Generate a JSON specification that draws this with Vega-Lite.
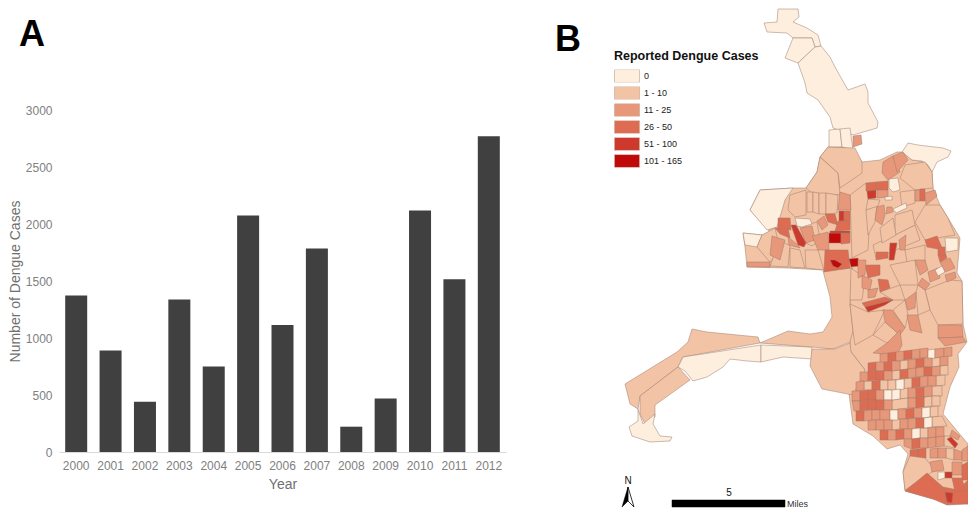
{"$schema":"https://vega.github.io/schema/vega-lite/v6.json","autosize":{"type":"fit","contains":"padding"},"width":968,"height":508,"padding":0,"background":"white","config":{"view":{"stroke":null},"font":"Liberation Sans"},"layer":[{"data":{"values":[{"year":"2000","cases":1373},{"year":"2001","cases":891},{"year":"2002","cases":441},{"year":"2003","cases":1338},{"year":"2004","cases":751},{"year":"2005","cases":2074},{"year":"2006","cases":1113},{"year":"2007","cases":1785},{"year":"2008","cases":222},{"year":"2009","cases":470},{"year":"2010","cases":2118},{"year":"2011","cases":1516},{"year":"2012","cases":2769}]},"mark":{"type":"bar","color":"#404040"},"encoding":{"x":{"field":"year","type":"nominal","title":"Year","scale":{"paddingInner":0.36,"paddingOuter":0.18,"range":[59,506]},"axis":{"orient":"bottom","offset":-56,"labelAngle":0,"ticks":false,"domainColor":"#d9d9d9","labelColor":"#808080","labelFontSize":12,"labelPadding":8,"titleColor":"#707070","titleFontSize":14,"titleFontWeight":"normal","titlePadding":6}},"y":{"field":"cases","type":"quantitative","title":"Number of Dengue Cases","scale":{"domain":[0,3000],"range":[452,110]},"axis":{"orient":"left","offset":-59,"format":"d","values":[0,500,1000,1500,2000,2500,3000],"grid":false,"domain":false,"ticks":false,"labelColor":"#808080","labelFontSize":12,"labelPadding":7,"titleColor":"#707070","titleFontSize":14,"titleFontWeight":"normal","titlePadding":3}}}},
{"projection":{"type":"identity","scale":1,"translate":[0,0]},"data":{"values":[
{"type":"Feature","c":"1 - 10","geometry":{"type":"Polygon","coordinates":[[[743,233],[762,235],[770,232],[750,210],[760,190],[793,188],[806,188],[817,172],[820,157],[828,147],[853,148],[862,162],[880,160],[897,152],[902,152],[912,160],[925,162],[932,172],[933,188],[940,205],[948,218],[960,238],[959,250],[957,273],[962,281],[963,324],[967,342],[958,354],[959,367],[950,387],[943,414],[968,444],[968,504],[933,499],[905,491],[903,471],[908,454],[900,445],[887,449],[873,436],[853,424],[849,394],[853,384],[865,370],[850,350],[850,304],[852,268],[823,270],[787,268],[747,267],[745,247],[743,233]]]}},
{"type":"Feature","c":"0","geometry":{"type":"Polygon","coordinates":[[[778,9],[798,9],[799,17],[793,22],[807,28],[818,35],[821,46],[815,47],[812,38],[793,38],[787,33],[767,32],[764,23],[777,22],[778,9]]]}},
{"type":"Feature","c":"0","geometry":{"type":"Polygon","coordinates":[[[793,38],[812,38],[815,47],[798,63],[785,58],[793,38]]]}},
{"type":"Feature","c":"0","geometry":{"type":"Polygon","coordinates":[[[815,47],[821,46],[830,57],[835,67],[848,90],[865,84],[868,92],[868,103],[878,122],[877,128],[853,135],[833,128],[830,117],[818,100],[807,93],[805,83],[798,63],[815,47]]]}},
{"type":"Feature","c":"0","geometry":{"type":"Polygon","coordinates":[[[829,130],[840,129],[842,147],[829,147],[829,130]]]}},
{"type":"Feature","c":"0","geometry":{"type":"Polygon","coordinates":[[[840,129],[850,128],[853,150],[842,147],[840,129]]]}},
{"type":"Feature","c":"11 - 25","geometry":{"type":"Polygon","coordinates":[[[853,136],[861,135],[862,144],[853,147],[853,136]]]}},
{"type":"Feature","c":"0","geometry":{"type":"Polygon","coordinates":[[[902,152],[908,143],[918,145],[943,148],[951,151],[948,157],[937,162],[932,172],[928,165],[922,161],[912,160],[902,152]]]}},
{"type":"Feature","c":"0","geometry":{"type":"Polygon","coordinates":[[[760,190],[793,188],[785,200],[777,227],[767,230],[750,210],[760,190]]]}},
{"type":"Feature","c":"0","geometry":{"type":"Polygon","coordinates":[[[743,233],[762,235],[757,247],[745,245],[743,233]]]}},
{"type":"Feature","c":"1 - 10","geometry":{"type":"Polygon","coordinates":[[[820,157],[838,173],[840,195],[812,193],[806,188],[817,172],[820,157]]]}},
{"type":"Feature","c":"1 - 10","geometry":{"type":"Polygon","coordinates":[[[855,148],[862,162],[862,173],[840,188],[838,173],[827,163],[820,157],[828,147],[855,148]]]}},
{"type":"Feature","c":"1 - 10","geometry":{"type":"Polygon","coordinates":[[[850,195],[866,183],[870,210],[868,250],[852,258],[850,195]]]}},
{"type":"Feature","c":"1 - 10","geometry":{"type":"Polygon","coordinates":[[[873,245],[915,225],[920,240],[876,258],[873,245]]]}},
{"type":"Feature","c":"1 - 10","geometry":{"type":"Polygon","coordinates":[[[905,165],[925,162],[932,172],[933,188],[915,190],[900,178],[905,165]]]}},
{"type":"Feature","c":"1 - 10","geometry":{"type":"Polygon","coordinates":[[[925,205],[940,205],[948,218],[955,235],[925,240],[915,222],[925,205]]]}},
{"type":"Feature","c":"1 - 10","geometry":{"type":"Polygon","coordinates":[[[760,343],[758,337],[707,332],[692,329],[688,342],[677,352],[625,384],[630,404],[638,409],[640,396],[678,367],[683,357],[760,343]]]}},
{"type":"Feature","c":"1 - 10","geometry":{"type":"Polygon","coordinates":[[[640,396],[678,367],[690,380],[655,405],[655,417],[645,424],[640,414],[640,396]]]}},
{"type":"Feature","c":"0","geometry":{"type":"Polygon","coordinates":[[[638,409],[643,424],[655,414],[653,424],[660,436],[672,437],[670,441],[650,442],[632,436],[629,427],[638,421],[638,409]]]}},
{"type":"Feature","c":"0","geometry":{"type":"Polygon","coordinates":[[[678,367],[683,357],[761,345],[761,362],[747,361],[730,359],[723,367],[707,377],[693,381],[685,371],[678,367]]]}},
{"type":"Feature","c":"0","geometry":{"type":"Polygon","coordinates":[[[761,345],[812,347],[812,359],[783,357],[761,362],[761,345]]]}},
{"type":"Feature","c":"1 - 10","geometry":{"type":"Polygon","coordinates":[[[823,271],[852,268],[850,304],[853,331],[850,342],[833,349],[812,347],[760,343],[788,331],[810,334],[823,332],[832,317],[830,297],[823,271]]]}},
{"type":"Feature","c":"1 - 10","geometry":{"type":"Polygon","coordinates":[[[812,349],[835,349],[850,343],[851,352],[865,370],[853,395],[822,389],[810,366],[812,349]]]}},
{"type":"Feature","c":"1 - 10","geometry":{"type":"Polygon","coordinates":[[[850,304],[868,312],[885,310],[873,335],[855,345],[853,331],[850,304]]]}},
{"type":"Feature","c":"1 - 10","geometry":{"type":"Polygon","coordinates":[[[925,290],[950,280],[962,281],[963,324],[938,325],[930,310],[925,290]]]}},
{"type":"Feature","c":"1 - 10","geometry":{"type":"Polygon","coordinates":[[[807,192],[813,192],[813,212],[807,212],[807,192]]]}},
{"type":"Feature","c":"1 - 10","geometry":{"type":"Polygon","coordinates":[[[813,192],[819,193],[819,214],[813,212],[813,192]]]}},
{"type":"Feature","c":"1 - 10","geometry":{"type":"Polygon","coordinates":[[[819,193],[826,193],[826,214],[819,214],[819,193]]]}},
{"type":"Feature","c":"1 - 10","geometry":{"type":"Polygon","coordinates":[[[826,193],[838,195],[837,213],[826,214],[826,193]]]}},
{"type":"Feature","c":"1 - 10","geometry":{"type":"Polygon","coordinates":[[[790,195],[806,190],[806,215],[795,217],[788,210],[790,195]]]}},
{"type":"Feature","c":"1 - 10","geometry":{"type":"Polygon","coordinates":[[[762,235],[775,228],[780,250],[770,262],[757,247],[762,235]]]}},
{"type":"Feature","c":"1 - 10","geometry":{"type":"Polygon","coordinates":[[[780,240],[790,246],[788,267],[770,266],[780,240]]]}},
{"type":"Feature","c":"1 - 10","geometry":{"type":"Polygon","coordinates":[[[790,248],[800,250],[805,268],[790,267],[790,248]]]}},
{"type":"Feature","c":"1 - 10","geometry":{"type":"Polygon","coordinates":[[[805,250],[818,250],[824,270],[806,268],[805,250]]]}},
{"type":"Feature","c":"1 - 10","geometry":{"type":"Polygon","coordinates":[[[806,225],[817,222],[820,240],[812,246],[806,243],[806,225]]]}},
{"type":"Feature","c":"1 - 10","geometry":{"type":"Polygon","coordinates":[[[851,268],[865,278],[862,300],[850,300],[851,268]]]}},
{"type":"Feature","c":"1 - 10","geometry":{"type":"Polygon","coordinates":[[[866,210],[877,205],[875,222],[868,235],[866,210]]]}},
{"type":"Feature","c":"1 - 10","geometry":{"type":"Polygon","coordinates":[[[868,199],[880,200],[878,206],[866,210],[868,199]]]}},
{"type":"Feature","c":"1 - 10","geometry":{"type":"Polygon","coordinates":[[[895,215],[912,210],[915,225],[895,235],[895,215]]]}},
{"type":"Feature","c":"1 - 10","geometry":{"type":"Polygon","coordinates":[[[880,228],[893,218],[896,235],[882,243],[880,228]]]}},
{"type":"Feature","c":"1 - 10","geometry":{"type":"Polygon","coordinates":[[[900,192],[915,190],[915,203],[902,207],[900,192]]]}},
{"type":"Feature","c":"1 - 10","geometry":{"type":"Polygon","coordinates":[[[905,250],[925,245],[925,262],[908,268],[905,250]]]}},
{"type":"Feature","c":"1 - 10","geometry":{"type":"Polygon","coordinates":[[[880,292],[900,285],[905,300],[893,300],[880,292]]]}},
{"type":"Feature","c":"1 - 10","geometry":{"type":"Polygon","coordinates":[[[890,265],[915,260],[918,285],[900,285],[890,265]]]}},
{"type":"Feature","c":"1 - 10","geometry":{"type":"Polygon","coordinates":[[[885,322],[900,335],[887,343],[873,335],[885,322]]]}},
{"type":"Feature","c":"1 - 10","geometry":{"type":"Polygon","coordinates":[[[918,285],[925,290],[930,310],[918,315],[916,292],[918,285]]]}},
{"type":"Feature","c":"1 - 10","geometry":{"type":"Polygon","coordinates":[[[893,310],[905,300],[908,315],[905,328],[893,310]]]}},
{"type":"Feature","c":"1 - 10","geometry":{"type":"Polygon","coordinates":[[[900,361],[908,360],[908,369],[900,370],[900,361]]]}},
{"type":"Feature","c":"1 - 10","geometry":{"type":"Polygon","coordinates":[[[932,358],[940,357],[940,366],[932,367],[932,358]]]}},
{"type":"Feature","c":"1 - 10","geometry":{"type":"Polygon","coordinates":[[[892,371],[900,370],[900,379],[892,380],[892,371]]]}},
{"type":"Feature","c":"1 - 10","geometry":{"type":"Polygon","coordinates":[[[940,366],[948,365],[948,375],[940,375],[940,366]]]}},
{"type":"Feature","c":"1 - 10","geometry":{"type":"Polygon","coordinates":[[[864,381],[872,381],[872,390],[864,390],[864,381]]]}},
{"type":"Feature","c":"1 - 10","geometry":{"type":"Polygon","coordinates":[[[880,380],[888,380],[888,390],[880,390],[880,380]]]}},
{"type":"Feature","c":"1 - 10","geometry":{"type":"Polygon","coordinates":[[[888,380],[896,380],[896,390],[888,390],[888,380]]]}},
{"type":"Feature","c":"1 - 10","geometry":{"type":"Polygon","coordinates":[[[904,379],[912,378],[912,388],[904,389],[904,379]]]}},
{"type":"Feature","c":"1 - 10","geometry":{"type":"Polygon","coordinates":[[[936,376],[945,375],[945,385],[936,386],[936,376]]]}},
{"type":"Feature","c":"1 - 10","geometry":{"type":"Polygon","coordinates":[[[900,389],[908,388],[908,398],[900,399],[900,389]]]}},
{"type":"Feature","c":"1 - 10","geometry":{"type":"Polygon","coordinates":[[[932,386],[942,386],[942,396],[932,396],[932,386]]]}},
{"type":"Feature","c":"1 - 10","geometry":{"type":"Polygon","coordinates":[[[892,400],[908,398],[908,408],[892,410],[892,400]]]}},
{"type":"Feature","c":"1 - 10","geometry":{"type":"Polygon","coordinates":[[[924,397],[932,396],[932,406],[924,407],[924,397]]]}},
{"type":"Feature","c":"1 - 10","geometry":{"type":"Polygon","coordinates":[[[932,396],[940,396],[940,406],[932,406],[932,396]]]}},
{"type":"Feature","c":"1 - 10","geometry":{"type":"Polygon","coordinates":[[[930,407],[938,406],[938,417],[930,417],[930,407]]]}},
{"type":"Feature","c":"1 - 10","geometry":{"type":"Polygon","coordinates":[[[892,420],[900,419],[900,429],[892,430],[892,420]]]}},
{"type":"Feature","c":"1 - 10","geometry":{"type":"Polygon","coordinates":[[[932,417],[942,416],[947,426],[932,427],[932,417]]]}},
{"type":"Feature","c":"1 - 10","geometry":{"type":"Polygon","coordinates":[[[920,428],[928,428],[928,438],[920,438],[920,428]]]}},
{"type":"Feature","c":"1 - 10","geometry":{"type":"Polygon","coordinates":[[[944,436],[950,436],[955,448],[944,446],[944,436]]]}},
{"type":"Feature","c":"1 - 10","geometry":{"type":"Polygon","coordinates":[[[946,448],[954,449],[954,460],[946,458],[946,448]]]}},
{"type":"Feature","c":"11 - 25","geometry":{"type":"Polygon","coordinates":[[[747,262],[770,262],[770,267],[747,267],[747,262]]]}},
{"type":"Feature","c":"11 - 25","geometry":{"type":"Polygon","coordinates":[[[772,236],[785,240],[780,260],[770,255],[772,236]]]}},
{"type":"Feature","c":"11 - 25","geometry":{"type":"Polygon","coordinates":[[[800,228],[812,226],[815,240],[806,243],[800,228]]]}},
{"type":"Feature","c":"11 - 25","geometry":{"type":"Polygon","coordinates":[[[883,162],[893,156],[900,172],[888,180],[882,173],[883,162]]]}},
{"type":"Feature","c":"11 - 25","geometry":{"type":"Polygon","coordinates":[[[893,156],[903,152],[908,160],[897,172],[893,156]]]}},
{"type":"Feature","c":"26 - 50","geometry":{"type":"Polygon","coordinates":[[[866,183],[876,182],[877,190],[866,191],[866,183]]]}},
{"type":"Feature","c":"51 - 100","geometry":{"type":"Polygon","coordinates":[[[867,191],[876,190],[876,198],[868,199],[867,191]]]}},
{"type":"Feature","c":"26 - 50","geometry":{"type":"Polygon","coordinates":[[[876,182],[888,181],[888,190],[877,190],[876,182]]]}},
{"type":"Feature","c":"11 - 25","geometry":{"type":"Polygon","coordinates":[[[877,190],[888,190],[888,197],[877,198],[877,190]]]}},
{"type":"Feature","c":"11 - 25","geometry":{"type":"Polygon","coordinates":[[[915,190],[920,190],[920,201],[915,201],[915,190]]]}},
{"type":"Feature","c":"26 - 50","geometry":{"type":"Polygon","coordinates":[[[920,189],[925,189],[925,201],[920,201],[920,189]]]}},
{"type":"Feature","c":"11 - 25","geometry":{"type":"Polygon","coordinates":[[[925,193],[935,190],[937,196],[926,205],[925,193]]]}},
{"type":"Feature","c":"0","geometry":{"type":"Polygon","coordinates":[[[889,179],[898,178],[900,190],[893,192],[889,188],[889,179]]]}},
{"type":"Feature","c":"0","geometry":{"type":"Polygon","coordinates":[[[885,197],[892,196],[892,200],[885,200],[885,197]]]}},
{"type":"Feature","c":"0","geometry":{"type":"Polygon","coordinates":[[[893,209],[906,203],[907,208],[896,213],[893,209]]]}},
{"type":"Feature","c":"11 - 25","geometry":{"type":"Polygon","coordinates":[[[877,207],[884,205],[885,215],[882,225],[875,220],[877,207]]]}},
{"type":"Feature","c":"11 - 25","geometry":{"type":"Polygon","coordinates":[[[887,207],[892,207],[893,212],[886,214],[887,207]]]}},
{"type":"Feature","c":"51 - 100","geometry":{"type":"Polygon","coordinates":[[[791,225],[796,225],[806,243],[804,247],[798,245],[791,225]]]}},
{"type":"Feature","c":"26 - 50","geometry":{"type":"Polygon","coordinates":[[[778,218],[790,218],[791,230],[778,228],[778,218]]]}},
{"type":"Feature","c":"26 - 50","geometry":{"type":"Polygon","coordinates":[[[775,228],[788,228],[790,238],[780,234],[775,228]]]}},
{"type":"Feature","c":"11 - 25","geometry":{"type":"Polygon","coordinates":[[[788,237],[798,245],[800,248],[789,245],[788,237]]]}},
{"type":"Feature","c":"0","geometry":{"type":"Polygon","coordinates":[[[795,218],[810,219],[812,224],[802,227],[797,226],[795,218]]]}},
{"type":"Feature","c":"11 - 25","geometry":{"type":"Polygon","coordinates":[[[840,192],[850,195],[851,210],[838,210],[840,192]]]}},
{"type":"Feature","c":"51 - 100","geometry":{"type":"Polygon","coordinates":[[[839,211],[844,211],[844,221],[839,221],[839,211]]]}},
{"type":"Feature","c":"26 - 50","geometry":{"type":"Polygon","coordinates":[[[844,211],[850,211],[850,221],[844,221],[844,211]]]}},
{"type":"Feature","c":"26 - 50","geometry":{"type":"Polygon","coordinates":[[[838,221],[850,221],[850,230],[835,231],[838,221]]]}},
{"type":"Feature","c":"26 - 50","geometry":{"type":"Polygon","coordinates":[[[825,214],[835,214],[838,225],[828,222],[825,214]]]}},
{"type":"Feature","c":"11 - 25","geometry":{"type":"Polygon","coordinates":[[[817,221],[824,216],[828,225],[822,230],[817,221]]]}},
{"type":"Feature","c":"11 - 25","geometry":{"type":"Polygon","coordinates":[[[812,236],[828,232],[829,250],[818,250],[812,236]]]}},
{"type":"Feature","c":"101 - 165","geometry":{"type":"Polygon","coordinates":[[[829,233],[841,233],[841,243],[829,243],[829,233]]]}},
{"type":"Feature","c":"51 - 100","geometry":{"type":"Polygon","coordinates":[[[830,231],[850,231],[850,233],[830,233],[830,231]]]}},
{"type":"Feature","c":"26 - 50","geometry":{"type":"Polygon","coordinates":[[[841,233],[850,233],[850,243],[841,244],[841,233]]]}},
{"type":"Feature","c":"26 - 50","geometry":{"type":"Polygon","coordinates":[[[825,250],[848,250],[850,268],[824,272],[825,250]]]}},
{"type":"Feature","c":"101 - 165","geometry":{"type":"Polygon","coordinates":[[[830,260],[835,260],[842,264],[838,268],[833,266],[830,260]]]}},
{"type":"Feature","c":"101 - 165","geometry":{"type":"Polygon","coordinates":[[[849,259],[858,258],[859,266],[851,267],[849,259]]]}},
{"type":"Feature","c":"26 - 50","geometry":{"type":"Polygon","coordinates":[[[865,265],[880,265],[880,275],[868,278],[865,265]]]}},
{"type":"Feature","c":"11 - 25","geometry":{"type":"Polygon","coordinates":[[[858,260],[866,260],[865,275],[858,278],[858,260]]]}},
{"type":"Feature","c":"11 - 25","geometry":{"type":"Polygon","coordinates":[[[862,275],[872,280],[870,290],[862,288],[862,275]]]}},
{"type":"Feature","c":"26 - 50","geometry":{"type":"Polygon","coordinates":[[[878,279],[888,280],[890,288],[880,292],[878,279]]]}},
{"type":"Feature","c":"11 - 25","geometry":{"type":"Polygon","coordinates":[[[868,290],[878,288],[875,297],[868,298],[868,290]]]}},
{"type":"Feature","c":"26 - 50","geometry":{"type":"Polygon","coordinates":[[[862,303],[885,297],[893,300],[865,307],[862,303]]]}},
{"type":"Feature","c":"51 - 100","geometry":{"type":"Polygon","coordinates":[[[865,307],[893,300],[885,305],[868,312],[865,307]]]}},
{"type":"Feature","c":"11 - 25","geometry":{"type":"Polygon","coordinates":[[[905,300],[916,292],[915,308],[908,310],[905,300]]]}},
{"type":"Feature","c":"11 - 25","geometry":{"type":"Polygon","coordinates":[[[883,310],[892,310],[905,328],[900,335],[885,322],[883,310]]]}},
{"type":"Feature","c":"11 - 25","geometry":{"type":"Polygon","coordinates":[[[873,353],[887,343],[900,330],[902,345],[897,355],[873,353]]]}},
{"type":"Feature","c":"11 - 25","geometry":{"type":"Polygon","coordinates":[[[907,315],[918,315],[922,333],[910,330],[907,315]]]}},
{"type":"Feature","c":"11 - 25","geometry":{"type":"Polygon","coordinates":[[[938,325],[962,325],[963,337],[938,338],[938,325]]]}},
{"type":"Feature","c":"11 - 25","geometry":{"type":"Polygon","coordinates":[[[938,338],[963,337],[966,342],[945,346],[938,338]]]}},
{"type":"Feature","c":"11 - 25","geometry":{"type":"Polygon","coordinates":[[[915,260],[925,260],[928,270],[920,275],[915,260]]]}},
{"type":"Feature","c":"11 - 25","geometry":{"type":"Polygon","coordinates":[[[928,272],[938,268],[940,278],[930,282],[928,272]]]}},
{"type":"Feature","c":"11 - 25","geometry":{"type":"Polygon","coordinates":[[[922,278],[930,284],[925,290],[918,285],[922,278]]]}},
{"type":"Feature","c":"11 - 25","geometry":{"type":"Polygon","coordinates":[[[940,262],[950,258],[955,268],[945,272],[940,262]]]}},
{"type":"Feature","c":"26 - 50","geometry":{"type":"Polygon","coordinates":[[[938,255],[945,252],[947,258],[940,262],[938,255]]]}},
{"type":"Feature","c":"0","geometry":{"type":"Polygon","coordinates":[[[935,270],[942,266],[945,272],[938,276],[935,270]]]}},
{"type":"Feature","c":"11 - 25","geometry":{"type":"Polygon","coordinates":[[[945,275],[955,272],[956,278],[947,282],[945,275]]]}},
{"type":"Feature","c":"51 - 100","geometry":{"type":"Polygon","coordinates":[[[890,243],[897,243],[894,260],[889,260],[890,243]]]}},
{"type":"Feature","c":"26 - 50","geometry":{"type":"Polygon","coordinates":[[[876,252],[888,252],[888,258],[876,260],[876,252]]]}},
{"type":"Feature","c":"11 - 25","geometry":{"type":"Polygon","coordinates":[[[899,240],[906,235],[905,250],[900,250],[899,240]]]}},
{"type":"Feature","c":"26 - 50","geometry":{"type":"Polygon","coordinates":[[[925,240],[937,236],[943,250],[927,247],[925,240]]]}},
{"type":"Feature","c":"26 - 50","geometry":{"type":"Polygon","coordinates":[[[938,247],[945,247],[945,255],[938,255],[938,247]]]}},
{"type":"Feature","c":"0","geometry":{"type":"Polygon","coordinates":[[[945,238],[958,238],[958,250],[946,252],[945,238]]]}},
{"type":"Feature","c":"11 - 25","geometry":{"type":"Polygon","coordinates":[[[880,354],[888,353],[888,362],[880,363],[880,354]]]}},
{"type":"Feature","c":"26 - 50","geometry":{"type":"Polygon","coordinates":[[[888,353],[896,352],[896,361],[888,362],[888,353]]]}},
{"type":"Feature","c":"11 - 25","geometry":{"type":"Polygon","coordinates":[[[896,352],[904,351],[904,360],[896,361],[896,352]]]}},
{"type":"Feature","c":"26 - 50","geometry":{"type":"Polygon","coordinates":[[[904,351],[912,350],[912,359],[904,360],[904,351]]]}},
{"type":"Feature","c":"11 - 25","geometry":{"type":"Polygon","coordinates":[[[912,350],[920,349],[920,358],[912,359],[912,350]]]}},
{"type":"Feature","c":"11 - 25","geometry":{"type":"Polygon","coordinates":[[[920,349],[928,348],[928,357],[920,358],[920,349]]]}},
{"type":"Feature","c":"0","geometry":{"type":"Polygon","coordinates":[[[928,350],[935,349],[935,358],[928,359],[928,350]]]}},
{"type":"Feature","c":"11 - 25","geometry":{"type":"Polygon","coordinates":[[[935,349],[944,348],[944,357],[935,358],[935,349]]]}},
{"type":"Feature","c":"11 - 25","geometry":{"type":"Polygon","coordinates":[[[944,348],[952,347],[952,356],[944,357],[944,348]]]}},
{"type":"Feature","c":"26 - 50","geometry":{"type":"Polygon","coordinates":[[[868,363],[876,362],[876,371],[868,372],[868,363]]]}},
{"type":"Feature","c":"11 - 25","geometry":{"type":"Polygon","coordinates":[[[876,362],[884,362],[884,371],[876,371],[876,362]]]}},
{"type":"Feature","c":"26 - 50","geometry":{"type":"Polygon","coordinates":[[[884,362],[892,362],[892,371],[884,371],[884,362]]]}},
{"type":"Feature","c":"11 - 25","geometry":{"type":"Polygon","coordinates":[[[892,361],[900,361],[900,370],[892,371],[892,361]]]}},
{"type":"Feature","c":"11 - 25","geometry":{"type":"Polygon","coordinates":[[[908,360],[916,359],[916,368],[908,369],[908,360]]]}},
{"type":"Feature","c":"26 - 50","geometry":{"type":"Polygon","coordinates":[[[916,359],[924,358],[924,367],[916,368],[916,359]]]}},
{"type":"Feature","c":"11 - 25","geometry":{"type":"Polygon","coordinates":[[[924,358],[932,358],[932,367],[924,367],[924,358]]]}},
{"type":"Feature","c":"11 - 25","geometry":{"type":"Polygon","coordinates":[[[940,357],[948,356],[948,365],[940,366],[940,357]]]}},
{"type":"Feature","c":"11 - 25","geometry":{"type":"Polygon","coordinates":[[[860,372],[868,372],[868,381],[860,381],[860,372]]]}},
{"type":"Feature","c":"26 - 50","geometry":{"type":"Polygon","coordinates":[[[868,372],[876,371],[876,380],[868,381],[868,372]]]}},
{"type":"Feature","c":"26 - 50","geometry":{"type":"Polygon","coordinates":[[[876,371],[884,371],[884,380],[876,380],[876,371]]]}},
{"type":"Feature","c":"11 - 25","geometry":{"type":"Polygon","coordinates":[[[884,371],[892,371],[892,380],[884,380],[884,371]]]}},
{"type":"Feature","c":"26 - 50","geometry":{"type":"Polygon","coordinates":[[[900,370],[908,369],[908,378],[900,379],[900,370]]]}},
{"type":"Feature","c":"11 - 25","geometry":{"type":"Polygon","coordinates":[[[908,369],[916,368],[916,377],[908,378],[908,369]]]}},
{"type":"Feature","c":"11 - 25","geometry":{"type":"Polygon","coordinates":[[[916,368],[924,367],[924,376],[916,377],[916,368]]]}},
{"type":"Feature","c":"26 - 50","geometry":{"type":"Polygon","coordinates":[[[924,367],[932,367],[932,376],[924,376],[924,367]]]}},
{"type":"Feature","c":"11 - 25","geometry":{"type":"Polygon","coordinates":[[[932,367],[940,366],[940,375],[932,376],[932,367]]]}},
{"type":"Feature","c":"11 - 25","geometry":{"type":"Polygon","coordinates":[[[856,382],[864,381],[864,390],[856,391],[856,382]]]}},
{"type":"Feature","c":"26 - 50","geometry":{"type":"Polygon","coordinates":[[[872,381],[880,380],[880,390],[872,390],[872,381]]]}},
{"type":"Feature","c":"0","geometry":{"type":"Polygon","coordinates":[[[896,380],[904,379],[904,389],[896,390],[896,380]]]}},
{"type":"Feature","c":"26 - 50","geometry":{"type":"Polygon","coordinates":[[[912,378],[920,377],[920,387],[912,388],[912,378]]]}},
{"type":"Feature","c":"11 - 25","geometry":{"type":"Polygon","coordinates":[[[920,377],[928,376],[928,386],[920,387],[920,377]]]}},
{"type":"Feature","c":"11 - 25","geometry":{"type":"Polygon","coordinates":[[[928,376],[936,376],[936,386],[928,386],[928,376]]]}},
{"type":"Feature","c":"11 - 25","geometry":{"type":"Polygon","coordinates":[[[852,391],[860,391],[860,401],[852,401],[852,391]]]}},
{"type":"Feature","c":"26 - 50","geometry":{"type":"Polygon","coordinates":[[[860,391],[868,390],[868,400],[860,401],[860,391]]]}},
{"type":"Feature","c":"26 - 50","geometry":{"type":"Polygon","coordinates":[[[868,390],[876,390],[876,400],[868,400],[868,390]]]}},
{"type":"Feature","c":"11 - 25","geometry":{"type":"Polygon","coordinates":[[[876,390],[884,390],[884,400],[876,400],[876,390]]]}},
{"type":"Feature","c":"0","geometry":{"type":"Polygon","coordinates":[[[884,390],[892,390],[892,400],[884,400],[884,390]]]}},
{"type":"Feature","c":"0","geometry":{"type":"Polygon","coordinates":[[[892,390],[900,389],[900,399],[892,400],[892,390]]]}},
{"type":"Feature","c":"11 - 25","geometry":{"type":"Polygon","coordinates":[[[908,388],[916,388],[916,398],[908,398],[908,388]]]}},
{"type":"Feature","c":"26 - 50","geometry":{"type":"Polygon","coordinates":[[[916,388],[924,387],[924,397],[916,398],[916,388]]]}},
{"type":"Feature","c":"11 - 25","geometry":{"type":"Polygon","coordinates":[[[924,387],[932,386],[932,396],[924,397],[924,387]]]}},
{"type":"Feature","c":"11 - 25","geometry":{"type":"Polygon","coordinates":[[[852,401],[860,401],[860,411],[854,411],[852,401]]]}},
{"type":"Feature","c":"26 - 50","geometry":{"type":"Polygon","coordinates":[[[860,401],[868,400],[868,410],[860,411],[860,401]]]}},
{"type":"Feature","c":"26 - 50","geometry":{"type":"Polygon","coordinates":[[[868,400],[876,400],[876,410],[868,410],[868,400]]]}},
{"type":"Feature","c":"26 - 50","geometry":{"type":"Polygon","coordinates":[[[876,400],[884,400],[884,410],[876,410],[876,400]]]}},
{"type":"Feature","c":"11 - 25","geometry":{"type":"Polygon","coordinates":[[[884,400],[892,400],[892,410],[884,410],[884,400]]]}},
{"type":"Feature","c":"11 - 25","geometry":{"type":"Polygon","coordinates":[[[908,398],[916,398],[916,408],[908,408],[908,398]]]}},
{"type":"Feature","c":"26 - 50","geometry":{"type":"Polygon","coordinates":[[[916,398],[924,397],[924,407],[916,408],[916,398]]]}},
{"type":"Feature","c":"26 - 50","geometry":{"type":"Polygon","coordinates":[[[856,411],[864,411],[864,421],[856,421],[856,411]]]}},
{"type":"Feature","c":"11 - 25","geometry":{"type":"Polygon","coordinates":[[[864,411],[872,410],[872,420],[864,421],[864,411]]]}},
{"type":"Feature","c":"11 - 25","geometry":{"type":"Polygon","coordinates":[[[872,410],[880,410],[880,420],[872,420],[872,410]]]}},
{"type":"Feature","c":"11 - 25","geometry":{"type":"Polygon","coordinates":[[[880,410],[890,410],[890,420],[880,420],[880,410]]]}},
{"type":"Feature","c":"0","geometry":{"type":"Polygon","coordinates":[[[890,410],[898,410],[898,420],[890,420],[890,410]]]}},
{"type":"Feature","c":"11 - 25","geometry":{"type":"Polygon","coordinates":[[[898,409],[906,409],[906,419],[898,419],[898,409]]]}},
{"type":"Feature","c":"26 - 50","geometry":{"type":"Polygon","coordinates":[[[906,409],[914,408],[914,418],[906,419],[906,409]]]}},
{"type":"Feature","c":"11 - 25","geometry":{"type":"Polygon","coordinates":[[[914,408],[922,408],[922,418],[914,418],[914,408]]]}},
{"type":"Feature","c":"0","geometry":{"type":"Polygon","coordinates":[[[922,408],[930,407],[930,417],[922,418],[922,408]]]}},
{"type":"Feature","c":"11 - 25","geometry":{"type":"Polygon","coordinates":[[[868,421],[876,420],[876,430],[868,430],[868,421]]]}},
{"type":"Feature","c":"11 - 25","geometry":{"type":"Polygon","coordinates":[[[876,420],[884,420],[884,430],[876,430],[876,420]]]}},
{"type":"Feature","c":"11 - 25","geometry":{"type":"Polygon","coordinates":[[[884,420],[892,420],[892,430],[884,430],[884,420]]]}},
{"type":"Feature","c":"11 - 25","geometry":{"type":"Polygon","coordinates":[[[900,419],[908,419],[908,429],[900,429],[900,419]]]}},
{"type":"Feature","c":"11 - 25","geometry":{"type":"Polygon","coordinates":[[[908,419],[916,418],[916,428],[908,429],[908,419]]]}},
{"type":"Feature","c":"26 - 50","geometry":{"type":"Polygon","coordinates":[[[916,418],[924,418],[924,428],[916,428],[916,418]]]}},
{"type":"Feature","c":"0","geometry":{"type":"Polygon","coordinates":[[[924,418],[932,417],[932,427],[924,428],[924,418]]]}},
{"type":"Feature","c":"26 - 50","geometry":{"type":"Polygon","coordinates":[[[880,430],[888,430],[888,440],[880,440],[880,430]]]}},
{"type":"Feature","c":"11 - 25","geometry":{"type":"Polygon","coordinates":[[[888,430],[896,430],[896,440],[888,440],[888,430]]]}},
{"type":"Feature","c":"26 - 50","geometry":{"type":"Polygon","coordinates":[[[896,430],[904,429],[904,439],[896,440],[896,430]]]}},
{"type":"Feature","c":"11 - 25","geometry":{"type":"Polygon","coordinates":[[[904,429],[912,429],[912,439],[904,439],[904,429]]]}},
{"type":"Feature","c":"0","geometry":{"type":"Polygon","coordinates":[[[912,429],[920,428],[920,438],[912,439],[912,429]]]}},
{"type":"Feature","c":"11 - 25","geometry":{"type":"Polygon","coordinates":[[[928,428],[936,427],[936,437],[928,438],[928,428]]]}},
{"type":"Feature","c":"11 - 25","geometry":{"type":"Polygon","coordinates":[[[936,427],[944,427],[944,437],[936,437],[936,427]]]}},
{"type":"Feature","c":"11 - 25","geometry":{"type":"Polygon","coordinates":[[[952,430],[960,436],[958,440],[950,436],[952,430]]]}},
{"type":"Feature","c":"11 - 25","geometry":{"type":"Polygon","coordinates":[[[904,439],[912,439],[912,449],[904,446],[904,439]]]}},
{"type":"Feature","c":"26 - 50","geometry":{"type":"Polygon","coordinates":[[[912,439],[920,438],[920,448],[912,449],[912,439]]]}},
{"type":"Feature","c":"11 - 25","geometry":{"type":"Polygon","coordinates":[[[920,438],[928,438],[928,448],[920,448],[920,438]]]}},
{"type":"Feature","c":"11 - 25","geometry":{"type":"Polygon","coordinates":[[[928,438],[936,437],[936,447],[928,448],[928,438]]]}},
{"type":"Feature","c":"11 - 25","geometry":{"type":"Polygon","coordinates":[[[936,437],[944,436],[944,446],[936,447],[936,437]]]}},
{"type":"Feature","c":"51 - 100","geometry":{"type":"Polygon","coordinates":[[[947,439],[951,437],[958,444],[955,448],[947,439]]]}},
{"type":"Feature","c":"26 - 50","geometry":{"type":"Polygon","coordinates":[[[910,450],[918,449],[918,458],[910,457],[910,450]]]}},
{"type":"Feature","c":"26 - 50","geometry":{"type":"Polygon","coordinates":[[[918,449],[926,448],[926,458],[918,458],[918,449]]]}},
{"type":"Feature","c":"11 - 25","geometry":{"type":"Polygon","coordinates":[[[930,449],[938,448],[938,458],[930,458],[930,449]]]}},
{"type":"Feature","c":"11 - 25","geometry":{"type":"Polygon","coordinates":[[[938,448],[946,448],[946,458],[938,458],[938,448]]]}},
{"type":"Feature","c":"11 - 25","geometry":{"type":"Polygon","coordinates":[[[954,449],[962,452],[962,460],[954,460],[954,449]]]}},
{"type":"Feature","c":"11 - 25","geometry":{"type":"Polygon","coordinates":[[[962,450],[968,446],[968,461],[962,461],[962,450]]]}},
{"type":"Feature","c":"1 - 10","geometry":{"type":"Polygon","coordinates":[[[910,456],[925,458],[935,470],[905,490],[903,472],[910,456]]]}},
{"type":"Feature","c":"26 - 50","geometry":{"type":"Polygon","coordinates":[[[905,491],[927,473],[943,487],[947,505],[933,499],[905,491]]]}},
{"type":"Feature","c":"26 - 50","geometry":{"type":"Polygon","coordinates":[[[943,487],[958,490],[968,480],[968,504],[947,505],[943,487]]]}},
{"type":"Feature","c":"11 - 25","geometry":{"type":"Polygon","coordinates":[[[952,462],[962,462],[962,475],[952,475],[952,462]]]}},
{"type":"Feature","c":"11 - 25","geometry":{"type":"Polygon","coordinates":[[[930,462],[942,460],[944,470],[932,472],[930,462]]]}},
{"type":"Feature","c":"26 - 50","geometry":{"type":"Polygon","coordinates":[[[962,465],[968,462],[968,480],[962,480],[962,465]]]}},
{"type":"Feature","c":"26 - 50","geometry":{"type":"Polygon","coordinates":[[[952,478],[962,478],[965,490],[955,492],[952,478]]]}},
{"type":"Feature","c":"0","geometry":{"type":"Polygon","coordinates":[[[938,472],[945,472],[945,478],[938,480],[938,472]]]}},
{"type":"Feature","c":"51 - 100","geometry":{"type":"Polygon","coordinates":[[[945,472],[952,472],[952,478],[945,478],[945,472]]]}},
{"type":"Feature","c":"51 - 100","geometry":{"type":"Polygon","coordinates":[[[945,492],[953,493],[952,503],[947,502],[945,492]]]}}
]},"mark":{"type":"geoshape","stroke":"#9c7b6b","strokeWidth":0.5},"encoding":{"color":{"field":"c","type":"nominal","scale":{"domain":["0","1 - 10","11 - 25","26 - 50","51 - 100","101 - 165"],"range":["#fdeedd","#f2c4a5","#e8987a","#de6c53","#cd3a2d","#c00a0a"]},"legend":{"title":"Reported Dengue Cases","orient":"none","legendX":614,"legendY":50,"symbolType":"M-1,-1.08H3.17V1.08H-1Z","symbolSize":144,"symbolStrokeColor":"#c9ad9a","symbolStrokeWidth":0.7,"symbolOpacity":1,"clipHeight":13,"rowPadding":4,"titleFont":"Liberation Sans","titleFontSize":12.5,"titleFontWeight":"bold","titleColor":"#111111","titleLimit":300,"titlePadding":7,"labelFont":"Liberation Sans","labelFontSize":9,"labelColor":"#222222","labelOffset":17}}}},
{"projection":{"type":"identity","scale":1,"translate":[0,0]},"data":{"values":[{"type":"Feature","geometry":{"type":"Polygon","coordinates":[[[672,500],[785,500],[785,507],[672,507],[672,500]]]}},{"type":"Feature","geometry":{"type":"Polygon","coordinates":[[[628,487],[628,501],[622,507],[628,487]]]}}]},"mark":{"type":"geoshape","fill":"#000000","stroke":"#000000","strokeWidth":0.5}},
{"projection":{"type":"identity","scale":1,"translate":[0,0]},"data":{"values":[{"type":"Feature","geometry":{"type":"Polygon","coordinates":[[[628,487],[634,507],[628,501],[628,487]]]}}]},"mark":{"type":"geoshape","fill":"#ffffff","stroke":"#000000","strokeWidth":0.8}},
{"projection":{"type":"identity","scale":1,"translate":[0,0]},"data":{"values":[{"mx":19,"my":46,"t":"A"},{"mx":555,"my":51,"t":"B"}]},"mark":{"type":"text","fontSize":36,"fontWeight":"bold","font":"Liberation Sans","align":"left","baseline":"alphabetic","color":"#000000"},"encoding":{"longitude":{"field":"mx","type":"quantitative"},"latitude":{"field":"my","type":"quantitative"},"text":{"field":"t"}}},
{"projection":{"type":"identity","scale":1,"translate":[0,0]},"data":{"values":[{"mx":628,"my":484,"t":"N"},{"mx":729,"my":496,"t":"5"}]},"mark":{"type":"text","fontSize":10,"font":"Liberation Sans","align":"center","baseline":"alphabetic","color":"#111111"},"encoding":{"longitude":{"field":"mx","type":"quantitative"},"latitude":{"field":"my","type":"quantitative"},"text":{"field":"t"}}},
{"projection":{"type":"identity","scale":1,"translate":[0,0]},"data":{"values":[{"mx":787,"my":507,"t":"Miles"}]},"mark":{"type":"text","fontSize":9,"font":"Liberation Sans","align":"left","baseline":"alphabetic","color":"#333333"},"encoding":{"longitude":{"field":"mx","type":"quantitative"},"latitude":{"field":"my","type":"quantitative"},"text":{"field":"t"}}}
]}
